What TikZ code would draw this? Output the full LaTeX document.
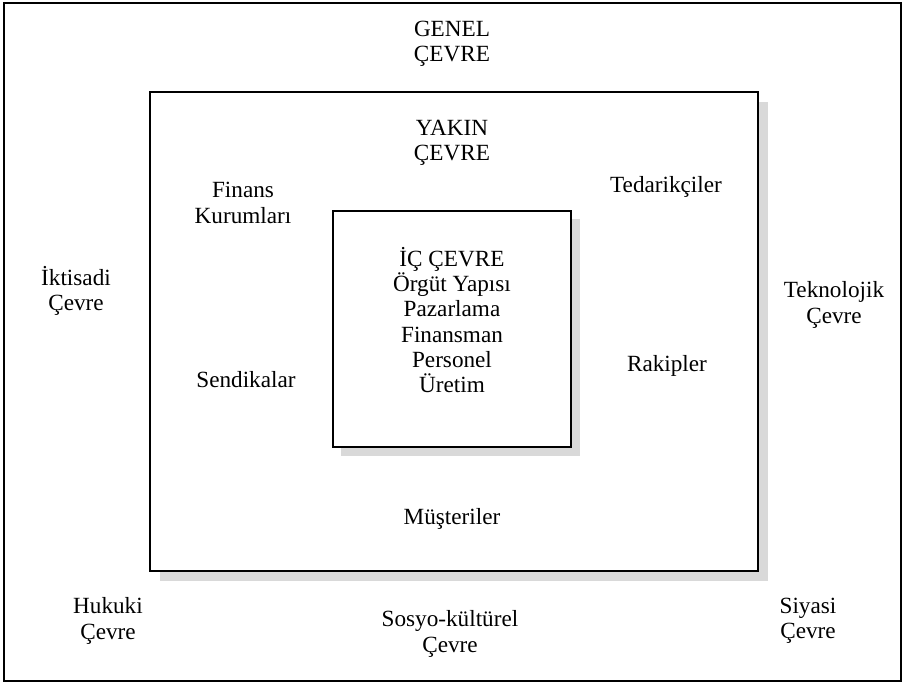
\documentclass[tikz,border=0pt]{standalone}
\usepackage{fontspec}
\setmainfont{Liberation Serif}
\definecolor{shadowgray}{RGB}{217,217,217}
\tikzset{
    env/.style={align=center, font=\fontsize{13.2}{14.4}\selectfont},
    frame/.style={draw=black, line width=1.6pt},
}
\begin{document}
\begin{tikzpicture}[x=0.02cm, y=-0.02cm]
    \useasboundingbox (0,0) rectangle (904,684);
    \draw[frame] (4,3) rectangle (901,681);
    % yakin cevre box with shadow
    \fill[shadowgray] (160,102) rectangle (768,581);
    \draw[frame, fill=white] (150,92) rectangle (758,571);
    % ic cevre box with shadow
    \fill[shadowgray] (341,219) rectangle (580,456);
    \draw[frame, fill=white] (333,211) rectangle (571,447);

    \node[env] (genel) at (452,44) {GENEL\\ÇEVRE};
    \node[env] (yakin) at (452,143) {YAKIN\\ÇEVRE};
    \node[env] (finans) at (243,203) {Finans\\Kurumları};
    \node[env] (tedarik) at (666,187) {Tedarikçiler};
    \node[env] (iktisadi) at (76,291) {İktisadi\\Çevre};
    \node[env] (teknoloji) at (834,305) {Teknolojik\\Çevre};
    \node[env] (sendika) at (246,380) {Sendikalar};
    \node[env] (rakip) at (667,366) {Rakipler};
    \node[env] (ic) at (452,320) {İÇ ÇEVRE\\Örgüt Yapısı\\Pazarlama\\Finansman\\Personel\\Üretim};
    \node[env] (musteri) at (452,519) {Müşteriler};
    \node[env] (hukuki) at (108,621) {Hukuki\\Çevre};
    \node[env] (sosyo) at (450,634) {Sosyo-kültürel\\Çevre};
    \node[env] (siyasi) at (808,621) {Siyasi\\Çevre};
\end{tikzpicture}
\end{document}
